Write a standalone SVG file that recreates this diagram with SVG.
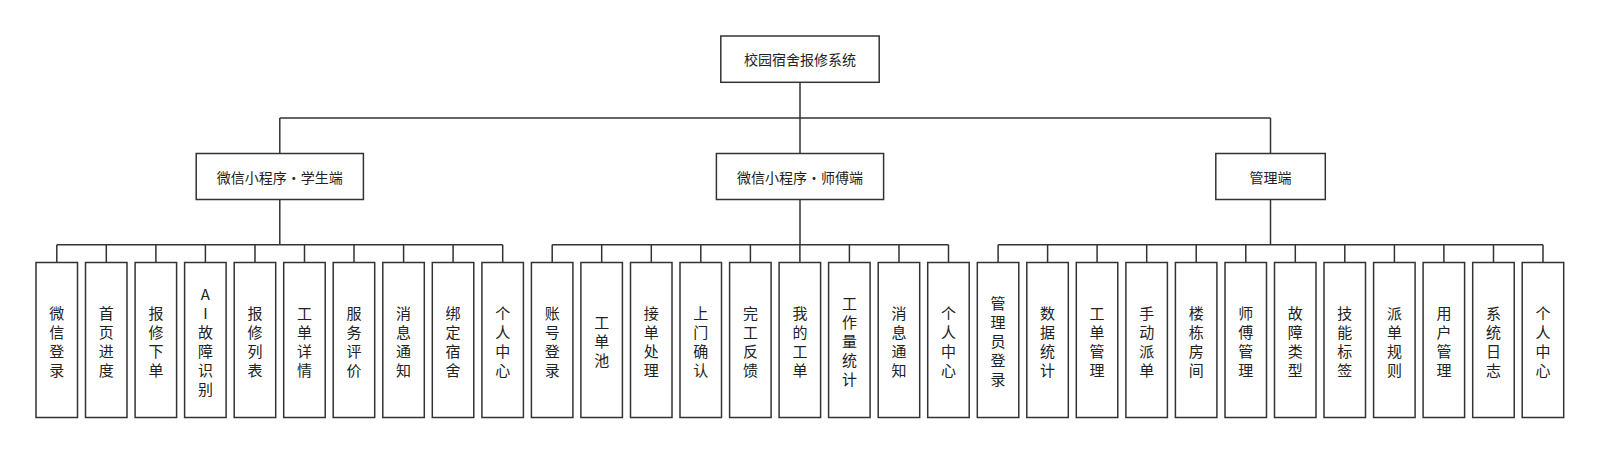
<svg xmlns="http://www.w3.org/2000/svg" width="1600" height="454" viewBox="0 0 1600 454">
<style>
.b{fill:#fff;stroke:#333;stroke-width:1.5}
.t{font-family:"Noto Sans CJK SC","Noto Sans",sans-serif;fill:#222;text-anchor:middle;dominant-baseline:central}
.h{font-size:14px}
.l{font-size:15px}
.c{fill:none;stroke:#333;stroke-width:1.5}
</style>
<rect width="1600" height="454" fill="#fff"/>
<g id="connectors" class="c">
<path d="M800,82.3 V118 M279.8,118 H1270.5 M279.8,118 V153.5 M800,118 V153.5 M1270.5,118 V153.5"/>
<path d="M279.8,199.5 V244.7 M56.8,244.7 H502.7 M56.8,244.7 V262.5 M106.3,244.7 V262.5 M155.9,244.7 V262.5 M205.4,244.7 V262.5 M255,244.7 V262.5 M304.5,244.7 V262.5 M354,244.7 V262.5 M403.6,244.7 V262.5 M453.1,244.7 V262.5 M502.7,244.7 V262.5"/>
<path d="M800,199.5 V244.7 M552.2,244.7 H948.5 M552.2,244.7 V262.5 M601.7,244.7 V262.5 M651.3,244.7 V262.5 M700.8,244.7 V262.5 M750.4,244.7 V262.5 M799.9,244.7 V262.5 M849.4,244.7 V262.5 M899,244.7 V262.5 M948.5,244.7 V262.5"/>
<path d="M1270.5,199.5 V244.7 M998.1,244.7 H1543 M998.1,244.7 V262.5 M1047.6,244.7 V262.5 M1097.1,244.7 V262.5 M1146.7,244.7 V262.5 M1196.2,244.7 V262.5 M1245.8,244.7 V262.5 M1295.3,244.7 V262.5 M1344.8,244.7 V262.5 M1394.4,244.7 V262.5 M1443.9,244.7 V262.5 M1493.5,244.7 V262.5 M1543,244.7 V262.5"/>
</g>
<g id="root"><rect class="b" x="720.8" y="36" width="158.4" height="46.3"/><text class="t h" x="800" y="59.2">校园宿舍报修系统</text></g>
<g id="student"><rect class="b" x="196.2" y="153.5" width="167.2" height="46"/><text class="t h" x="279.8" y="176.5">微信小程序・学生端</text></g>
<g id="teacher"><rect class="b" x="716.4" y="153.5" width="167.2" height="46"/><text class="t h" x="800" y="176.5">微信小程序・师傅端</text></g>
<g id="admin"><rect class="b" x="1215.8" y="153.5" width="109.5" height="46"/><text class="t h" x="1270.5" y="176.5">管理端</text></g>

<g id="s1"><rect class="b" x="36" y="262.5" width="41.5" height="155"/><text class="t l"><tspan x="56.8" y="311.5">微</tspan><tspan x="56.8" y="330.5">信</tspan><tspan x="56.8" y="349.5">登</tspan><tspan x="56.8" y="368.5">录</tspan></text></g>
<g id="s2"><rect class="b" x="85.5" y="262.5" width="41.5" height="155"/><text class="t l"><tspan x="106.3" y="311.5">首</tspan><tspan x="106.3" y="330.5">页</tspan><tspan x="106.3" y="349.5">进</tspan><tspan x="106.3" y="368.5">度</tspan></text></g>
<g id="s3"><rect class="b" x="135.1" y="262.5" width="41.5" height="155"/><text class="t l"><tspan x="155.9" y="311.5">报</tspan><tspan x="155.9" y="330.5">修</tspan><tspan x="155.9" y="349.5">下</tspan><tspan x="155.9" y="368.5">单</tspan></text></g>
<g id="s4"><rect class="b" x="184.6" y="262.5" width="41.5" height="155"/><text class="t l"><tspan x="205.4" y="292.5">A</tspan><tspan x="205.4" y="311.5">I</tspan><tspan x="205.4" y="330.5">故</tspan><tspan x="205.4" y="349.5">障</tspan><tspan x="205.4" y="368.5">识</tspan><tspan x="205.4" y="387.5">别</tspan></text></g>
<g id="s5"><rect class="b" x="234.2" y="262.5" width="41.5" height="155"/><text class="t l"><tspan x="255" y="311.5">报</tspan><tspan x="255" y="330.5">修</tspan><tspan x="255" y="349.5">列</tspan><tspan x="255" y="368.5">表</tspan></text></g>
<g id="s6"><rect class="b" x="283.7" y="262.5" width="41.5" height="155"/><text class="t l"><tspan x="304.5" y="311.5">工</tspan><tspan x="304.5" y="330.5">单</tspan><tspan x="304.5" y="349.5">详</tspan><tspan x="304.5" y="368.5">情</tspan></text></g>
<g id="s7"><rect class="b" x="333.2" y="262.5" width="41.5" height="155"/><text class="t l"><tspan x="354" y="311.5">服</tspan><tspan x="354" y="330.5">务</tspan><tspan x="354" y="349.5">评</tspan><tspan x="354" y="368.5">价</tspan></text></g>
<g id="s8"><rect class="b" x="382.8" y="262.5" width="41.5" height="155"/><text class="t l"><tspan x="403.6" y="311.5">消</tspan><tspan x="403.6" y="330.5">息</tspan><tspan x="403.6" y="349.5">通</tspan><tspan x="403.6" y="368.5">知</tspan></text></g>
<g id="s9"><rect class="b" x="432.3" y="262.5" width="41.5" height="155"/><text class="t l"><tspan x="453.1" y="311.5">绑</tspan><tspan x="453.1" y="330.5">定</tspan><tspan x="453.1" y="349.5">宿</tspan><tspan x="453.1" y="368.5">舍</tspan></text></g>
<g id="s10"><rect class="b" x="481.9" y="262.5" width="41.5" height="155"/><text class="t l"><tspan x="502.7" y="311.5">个</tspan><tspan x="502.7" y="330.5">人</tspan><tspan x="502.7" y="349.5">中</tspan><tspan x="502.7" y="368.5">心</tspan></text></g>

<g id="m1"><rect class="b" x="531.4" y="262.5" width="41.5" height="155"/><text class="t l"><tspan x="552.2" y="311.5">账</tspan><tspan x="552.2" y="330.5">号</tspan><tspan x="552.2" y="349.5">登</tspan><tspan x="552.2" y="368.5">录</tspan></text></g>
<g id="m2"><rect class="b" x="580.9" y="262.5" width="41.5" height="155"/><text class="t l"><tspan x="601.7" y="321">工</tspan><tspan x="601.7" y="340">单</tspan><tspan x="601.7" y="359">池</tspan></text></g>
<g id="m3"><rect class="b" x="630.5" y="262.5" width="41.5" height="155"/><text class="t l"><tspan x="651.3" y="311.5">接</tspan><tspan x="651.3" y="330.5">单</tspan><tspan x="651.3" y="349.5">处</tspan><tspan x="651.3" y="368.5">理</tspan></text></g>
<g id="m4"><rect class="b" x="680" y="262.5" width="41.5" height="155"/><text class="t l"><tspan x="700.8" y="311.5">上</tspan><tspan x="700.8" y="330.5">门</tspan><tspan x="700.8" y="349.5">确</tspan><tspan x="700.8" y="368.5">认</tspan></text></g>
<g id="m5"><rect class="b" x="729.6" y="262.5" width="41.5" height="155"/><text class="t l"><tspan x="750.4" y="311.5">完</tspan><tspan x="750.4" y="330.5">工</tspan><tspan x="750.4" y="349.5">反</tspan><tspan x="750.4" y="368.5">馈</tspan></text></g>
<g id="m6"><rect class="b" x="779.1" y="262.5" width="41.5" height="155"/><text class="t l"><tspan x="799.9" y="311.5">我</tspan><tspan x="799.9" y="330.5">的</tspan><tspan x="799.9" y="349.5">工</tspan><tspan x="799.9" y="368.5">单</tspan></text></g>
<g id="m7"><rect class="b" x="828.6" y="262.5" width="41.5" height="155"/><text class="t l"><tspan x="849.4" y="302">工</tspan><tspan x="849.4" y="321">作</tspan><tspan x="849.4" y="340">量</tspan><tspan x="849.4" y="359">统</tspan><tspan x="849.4" y="378">计</tspan></text></g>
<g id="m8"><rect class="b" x="878.2" y="262.5" width="41.5" height="155"/><text class="t l"><tspan x="899" y="311.5">消</tspan><tspan x="899" y="330.5">息</tspan><tspan x="899" y="349.5">通</tspan><tspan x="899" y="368.5">知</tspan></text></g>
<g id="m9"><rect class="b" x="927.7" y="262.5" width="41.5" height="155"/><text class="t l"><tspan x="948.5" y="311.5">个</tspan><tspan x="948.5" y="330.5">人</tspan><tspan x="948.5" y="349.5">中</tspan><tspan x="948.5" y="368.5">心</tspan></text></g>

<g id="a1"><rect class="b" x="977.3" y="262.5" width="41.5" height="155"/><text class="t l"><tspan x="998.1" y="302">管</tspan><tspan x="998.1" y="321">理</tspan><tspan x="998.1" y="340">员</tspan><tspan x="998.1" y="359">登</tspan><tspan x="998.1" y="378">录</tspan></text></g>
<g id="a2"><rect class="b" x="1026.8" y="262.5" width="41.5" height="155"/><text class="t l"><tspan x="1047.6" y="311.5">数</tspan><tspan x="1047.6" y="330.5">据</tspan><tspan x="1047.6" y="349.5">统</tspan><tspan x="1047.6" y="368.5">计</tspan></text></g>
<g id="a3"><rect class="b" x="1076.3" y="262.5" width="41.5" height="155"/><text class="t l"><tspan x="1097.1" y="311.5">工</tspan><tspan x="1097.1" y="330.5">单</tspan><tspan x="1097.1" y="349.5">管</tspan><tspan x="1097.1" y="368.5">理</tspan></text></g>
<g id="a4"><rect class="b" x="1125.9" y="262.5" width="41.5" height="155"/><text class="t l"><tspan x="1146.7" y="311.5">手</tspan><tspan x="1146.7" y="330.5">动</tspan><tspan x="1146.7" y="349.5">派</tspan><tspan x="1146.7" y="368.5">单</tspan></text></g>
<g id="a5"><rect class="b" x="1175.4" y="262.5" width="41.5" height="155"/><text class="t l"><tspan x="1196.2" y="311.5">楼</tspan><tspan x="1196.2" y="330.5">栋</tspan><tspan x="1196.2" y="349.5">房</tspan><tspan x="1196.2" y="368.5">间</tspan></text></g>
<g id="a6"><rect class="b" x="1225" y="262.5" width="41.5" height="155"/><text class="t l"><tspan x="1245.8" y="311.5">师</tspan><tspan x="1245.8" y="330.5">傅</tspan><tspan x="1245.8" y="349.5">管</tspan><tspan x="1245.8" y="368.5">理</tspan></text></g>
<g id="a7"><rect class="b" x="1274.5" y="262.5" width="41.5" height="155"/><text class="t l"><tspan x="1295.3" y="311.5">故</tspan><tspan x="1295.3" y="330.5">障</tspan><tspan x="1295.3" y="349.5">类</tspan><tspan x="1295.3" y="368.5">型</tspan></text></g>
<g id="a8"><rect class="b" x="1324" y="262.5" width="41.5" height="155"/><text class="t l"><tspan x="1344.8" y="311.5">技</tspan><tspan x="1344.8" y="330.5">能</tspan><tspan x="1344.8" y="349.5">标</tspan><tspan x="1344.8" y="368.5">签</tspan></text></g>
<g id="a9"><rect class="b" x="1373.6" y="262.5" width="41.5" height="155"/><text class="t l"><tspan x="1394.4" y="311.5">派</tspan><tspan x="1394.4" y="330.5">单</tspan><tspan x="1394.4" y="349.5">规</tspan><tspan x="1394.4" y="368.5">则</tspan></text></g>
<g id="a10"><rect class="b" x="1423.1" y="262.5" width="41.5" height="155"/><text class="t l"><tspan x="1443.9" y="311.5">用</tspan><tspan x="1443.9" y="330.5">户</tspan><tspan x="1443.9" y="349.5">管</tspan><tspan x="1443.9" y="368.5">理</tspan></text></g>
<g id="a11"><rect class="b" x="1472.7" y="262.5" width="41.5" height="155"/><text class="t l"><tspan x="1493.5" y="311.5">系</tspan><tspan x="1493.5" y="330.5">统</tspan><tspan x="1493.5" y="349.5">日</tspan><tspan x="1493.5" y="368.5">志</tspan></text></g>
<g id="a12"><rect class="b" x="1522.2" y="262.5" width="41.5" height="155"/><text class="t l"><tspan x="1543" y="311.5">个</tspan><tspan x="1543" y="330.5">人</tspan><tspan x="1543" y="349.5">中</tspan><tspan x="1543" y="368.5">心</tspan></text></g>
</svg>
